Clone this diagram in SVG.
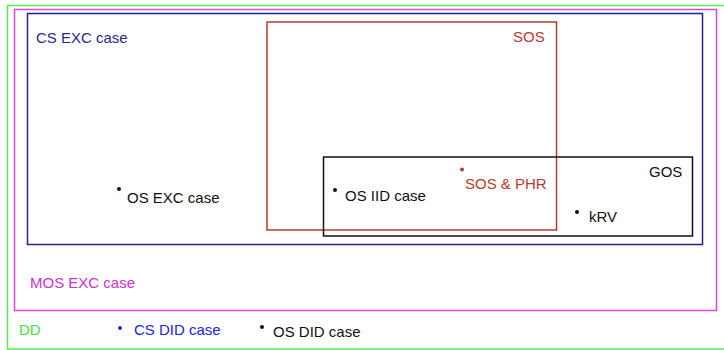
<svg xmlns="http://www.w3.org/2000/svg" width="724" height="350" viewBox="0 0 724 350">
<style>
text{font-family:"Liberation Sans",Arial,sans-serif;font-size:15px}
rect{fill:none;stroke-width:1.5}
.k{fill:#111}
.blue{fill:#2a2a8c}
.red{fill:#b83a30}
</style>
<rect width="724" height="350" fill="#fff" stroke="none"/>
<g id="DD"><rect x="7.5" y="5.5" width="720" height="343.5" stroke="#55ee55"/><text x="19" y="335" fill="#44dd44">DD</text></g>
<g id="MOS"><rect x="14.5" y="9.5" width="702" height="301" stroke="#dd44dd"/><text x="30" y="288" fill="#cc33cc">MOS EXC case</text></g>
<g id="CSEXC"><rect x="27.5" y="13.5" width="675" height="231" stroke="#22228a"/><text x="36" y="43" class="blue">CS EXC case</text></g>
<g id="SOS"><rect x="267" y="22" width="289.5" height="208" stroke="#b83a30"/><text x="513" y="42" class="red">SOS</text></g>
<g id="GOS"><rect x="323.5" y="157" width="369" height="79" stroke="#111"/><text x="649" y="177" class="k">GOS</text></g>
<g id="OSEXC"><circle cx="119" cy="189" r="2" class="k"/><text x="127" y="203" class="k">OS EXC case</text></g>
<g id="OSIID"><circle cx="335" cy="190" r="2" class="k"/><text x="345" y="201" class="k">OS IID case</text></g>
<g id="SOSPHR"><circle cx="462" cy="169.5" r="2" class="red"/><text x="465" y="189" class="red">SOS &amp; PHR</text></g>
<g id="kRV"><circle cx="577" cy="212" r="2" class="k"/><text x="589" y="222" class="k">kRV</text></g>
<g id="CSDID"><circle cx="120" cy="328" r="2" fill="#2222dd"/><text x="134" y="335" fill="#2222dd">CS DID case</text></g>
<g id="OSDID"><circle cx="262" cy="327" r="2" class="k"/><text x="273" y="337" class="k">OS DID case</text></g>
<g id="connectors"></g>
</svg>
